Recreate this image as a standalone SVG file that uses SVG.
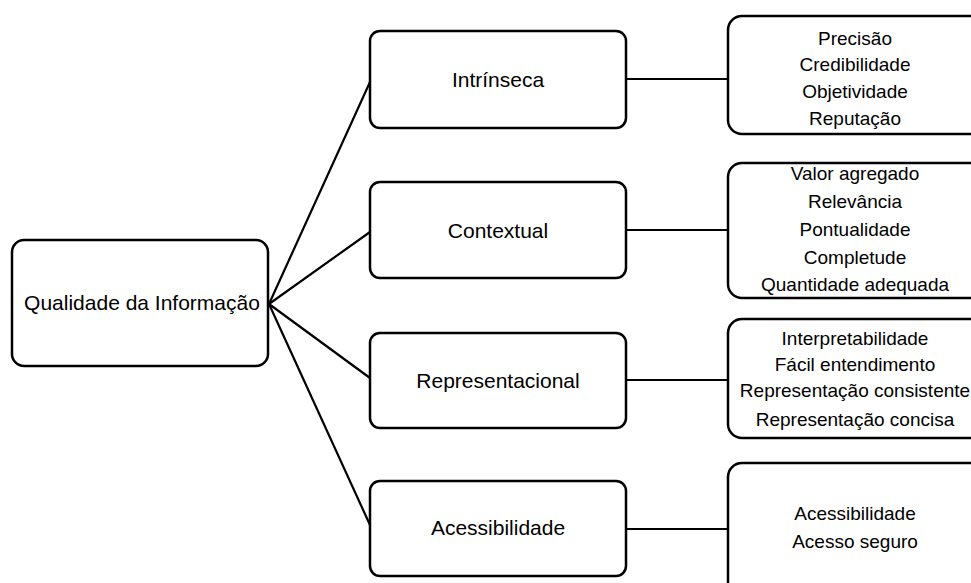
<svg xmlns="http://www.w3.org/2000/svg" width="971" height="583" viewBox="0 0 971 583">
  <style>
    .box { fill: #fff; stroke: #000; stroke-width: 2.5; }
    .edge { fill: none; stroke: #000; stroke-width: 2.2; }
    text { font-family: "Liberation Sans", Arial, sans-serif; font-size: 21px; fill: #000; text-anchor: middle; }
    .item { font-size: 19px; }
  </style>
  <rect width="971" height="583" fill="#fff"/>

  <g id="connectors">
    <line class="edge" x1="269" y1="304" x2="370" y2="82"/>
    <line class="edge" x1="269" y1="304" x2="370" y2="232"/>
    <line class="edge" x1="269" y1="304" x2="370" y2="378"/>
    <line class="edge" x1="269" y1="304" x2="370" y2="525"/>
    <line class="edge" x1="626" y1="79" x2="728" y2="79"/>
    <line class="edge" x1="626" y1="230" x2="728" y2="230"/>
    <line class="edge" x1="626" y1="380" x2="728" y2="380"/>
    <line class="edge" x1="626" y1="529" x2="728" y2="529"/>
  </g>

  <g id="qualidade">
    <rect class="box" x="12" y="240" width="256" height="126" rx="12"/>
    <text x="142" y="310">Qualidade  da Informação</text>
  </g>

  <g id="intrinseca">
    <rect class="box" x="370" y="31" width="256" height="97" rx="10"/>
    <text x="498" y="87">Intrínseca</text>
  </g>
  <g id="contextual">
    <rect class="box" x="370" y="182" width="256" height="96" rx="10"/>
    <text x="498" y="238">Contextual</text>
  </g>
  <g id="representacional">
    <rect class="box" x="370" y="333" width="256" height="95" rx="10"/>
    <text x="498" y="388">Representacional</text>
  </g>
  <g id="acessibilidade">
    <rect class="box" x="370" y="481" width="256" height="95" rx="10"/>
    <text x="498" y="535">Acessibilidade</text>
  </g>

  <g id="intrinseca-itens">
    <rect class="box" x="728" y="16" width="270" height="118" rx="14"/>
    <text class="item" x="855" y="45">Precisão</text>
    <text class="item" x="855" y="71">Credibilidade</text>
    <text class="item" x="855" y="98">Objetividade</text>
    <text class="item" x="855" y="125">Reputação</text>
  </g>
  <g id="contextual-itens">
    <rect class="box" x="728" y="163" width="270" height="135" rx="14"/>
    <text class="item" x="855" y="180">Valor agregado</text>
    <text class="item" x="855" y="208">Relevância</text>
    <text class="item" x="855" y="236">Pontualidade</text>
    <text class="item" x="855" y="264">Completude</text>
    <text class="item" x="855" y="291">Quantidade adequada</text>
  </g>
  <g id="representacional-itens">
    <rect class="box" x="728" y="319" width="270" height="119" rx="14"/>
    <text class="item" x="855" y="345">Interpretabilidade</text>
    <text class="item" x="855" y="371">Fácil entendimento</text>
    <text class="item" x="855" y="397">Representação consistente</text>
    <text class="item" x="855" y="426">Representação concisa</text>
  </g>
  <g id="acessibilidade-itens">
    <rect class="box" x="728" y="463" width="270" height="140" rx="14"/>
    <text class="item" x="855" y="520">Acessibilidade</text>
    <text class="item" x="855" y="548">Acesso seguro</text>
  </g>
</svg>
